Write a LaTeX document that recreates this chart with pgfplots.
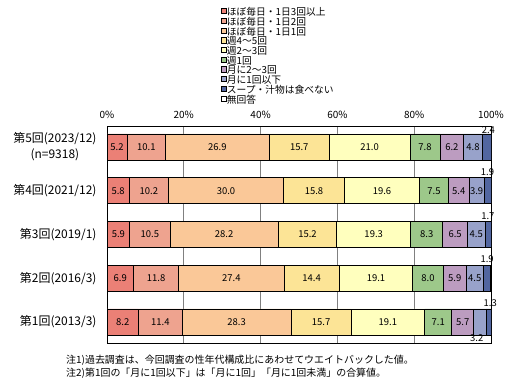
\documentclass[border=0pt]{standalone}
\usepackage{fontspec}
\setmainfont{Noto Sans CJK JP}
\usepackage{pgfplots}
\usepackage{pgfplotstable}
\pgfplotsset{compat=1.18}

\definecolor{c1}{RGB}{235,128,118}
\definecolor{c2}{RGB}{238,163,143}
\definecolor{c3}{RGB}{250,200,152}
\definecolor{c4}{RGB}{252,228,150}
\definecolor{c5}{RGB}{255,255,190}
\definecolor{c6}{RGB}{157,200,138}
\definecolor{c7}{RGB}{188,156,192}
\definecolor{c8}{RGB}{152,162,202}
\definecolor{c9}{RGB}{82,102,160}
\definecolor{gridgray}{RGB}{128,128,128}

\pgfplotstableread{
y s1 s2 s3 s4 s5 s6 s7 s8 s9 s10
0 8.2 11.4 28.3 15.7 19.1 7.1 5.7 3.2 1.3 0
1 6.9 11.8 27.4 14.4 19.1 8.0 5.9 4.5 1.9 0
2 5.9 10.5 28.2 15.2 19.3 8.3 6.5 4.5 1.7 0
3 5.8 10.2 30.0 15.8 19.6 7.5 5.4 3.9 1.9 0
4 5.2 10.1 26.9 15.7 21.0 7.8 6.2 4.8 2.4 0
}\datatable

% centred labels inside segments
\pgfplotstableread{
x y lab
2.6 4 5.2
10.25 4 10.1
28.75 4 26.9
50.05 4 15.7
68.4 4 21.0
82.8 4 7.8
89.8 4 6.2
95.3 4 4.8
2.9 3 5.8
10.9 3 10.2
31.0 3 30.0
53.9 3 15.8
71.6 3 19.6
85.15 3 7.5
91.6 3 5.4
96.25 3 3.9
2.95 2 5.9
11.15 2 10.5
30.5 2 28.2
52.2 2 15.2
69.45 2 19.3
83.25 2 8.3
90.65 2 6.5
96.15 2 4.5
3.45 1 6.9
12.8 1 11.8
32.4 1 27.4
53.3 1 14.4
70.05 1 19.1
83.6 1 8.0
90.55 1 5.9
95.75 1 4.5
4.1 0 8.2
13.9 0 11.4
33.75 0 28.3
55.75 0 15.7
73.15 0 19.1
86.25 0 7.1
92.65 0 5.7
}\labtable

% small values written outside the bars
\pgfplotstableread{
x y lab
99.3 4.39 2.4
99.1 3.43 1.9
99.2 2.43 1.7
99.0 1.43 1.9
99.8 0.43 1.3
96.3 -0.38 3.2
}\outtable

\begin{document}
\begin{tikzpicture}
\useasboundingbox (0bp,0bp) rectangle (516bp,391bp);
\begin{axis}[
  at={(107bp,48bp)}, anchor=south west,
  scale only axis, width=384bp, height=217bp,
  xbar stacked, bar width=26bp,
  xmin=0, xmax=100, ymin=-0.48, ymax=4.48,
  xtick={0,20,40,60,80,100},
  xticklabel pos=right,
  xticklabel={\pgfmathprintnumber{\tick}\%},
  /pgf/number format/assume math mode=true,
  xticklabel style={font=\fontsize{10}{10}\selectfont, yshift=4bp},
  ytick={0,1,2,3,4},
  yticklabels={第1回(2013/3),第2回(2016/3),第3回(2019/1),第4回(2021/12),{第5回(2023/12)\\(n=9318)}},
  yticklabel style={font=\fontsize{12}{16}\selectfont, align=center, xshift=-7bp},
  major tick length=0pt,
  xmajorgrids, major grid style={gridgray, line width=0.8bp},
  axis line style={black, line width=0.8bp},
  every axis plot/.append style={draw=black, line width=0.7bp},
  every axis plot post/.append style={legend image code/.code={\draw[##1,draw=black,line width=0.5bp] (0bp,-0.4bp) rectangle (5.2bp,4.8bp);}},
  legend style={at={(axis description cs:0.2969,1.5438)}, anchor=north west,
    draw=none, fill=none, inner sep=0pt, row sep=0pt,
    font=\fontsize{9.8}{9.8}\selectfont,
    nodes={inner sep=0pt, text height=7bp, text depth=2.33bp},
    /tikz/every even column/.append style={column sep=2.5bp}},
  legend cell align=left,
]
\addplot[fill=c1] table[x=s1,y=y]{\datatable};
\addplot[fill=c2] table[x=s2,y=y]{\datatable};
\addplot[fill=c3] table[x=s3,y=y]{\datatable};
\addplot[fill=c4] table[x=s4,y=y]{\datatable};
\addplot[fill=c5] table[x=s5,y=y]{\datatable};
\addplot[fill=c6] table[x=s6,y=y]{\datatable};
\addplot[fill=c7] table[x=s7,y=y]{\datatable};
\addplot[fill=c8] table[x=s8,y=y]{\datatable};
\addplot[fill=c9] table[x=s9,y=y]{\datatable};
\addplot[fill=white] table[x=s10,y=y]{\datatable};
\legend{ほぼ毎日・1日3回以上,ほぼ毎日・1日2回,ほぼ毎日・1日1回,週4～5回,週2～3回,週1回,月に2～3回,月に1回以下,スープ・汁物は食べない,無回答}
\end{axis}
\begin{axis}[
  at={(107bp,48bp)}, anchor=south west,
  scale only axis, width=384bp, height=217bp,
  xmin=0, xmax=100, ymin=-0.48, ymax=4.48,
  hide axis, clip=false,
]
\addplot[draw=none, mark=none, nodes near coords, point meta=explicit symbolic,
  nodes near coords align=center,
  every node near coord/.append style={font=\fontsize{9.5}{9.5}\selectfont, inner sep=0pt, text=black}]
  table[x=x,y=y,meta=lab]{\labtable};
\addplot[draw=none, mark=none, nodes near coords, point meta=explicit symbolic,
  nodes near coords align=center,
  every node near coord/.append style={font=\fontsize{9.5}{9.5}\selectfont, inner sep=0pt, text=black}]
  table[x=x,y=y,meta=lab]{\outtable};
\end{axis}
\node[anchor=west, inner sep=0pt, font=\fontsize{10}{10}\selectfont] at (66bp,31bp) {注1)過去調査は、今回調査の性年代構成比にあわせてウエイトバックした値。};
\node[anchor=west, inner sep=0pt, font=\fontsize{10}{10}\selectfont] at (66bp,18bp) {注2)第1回の「月に1回以下」は「月に1回」「月に1回未満」の合算値。};
\end{tikzpicture}
\end{document}
